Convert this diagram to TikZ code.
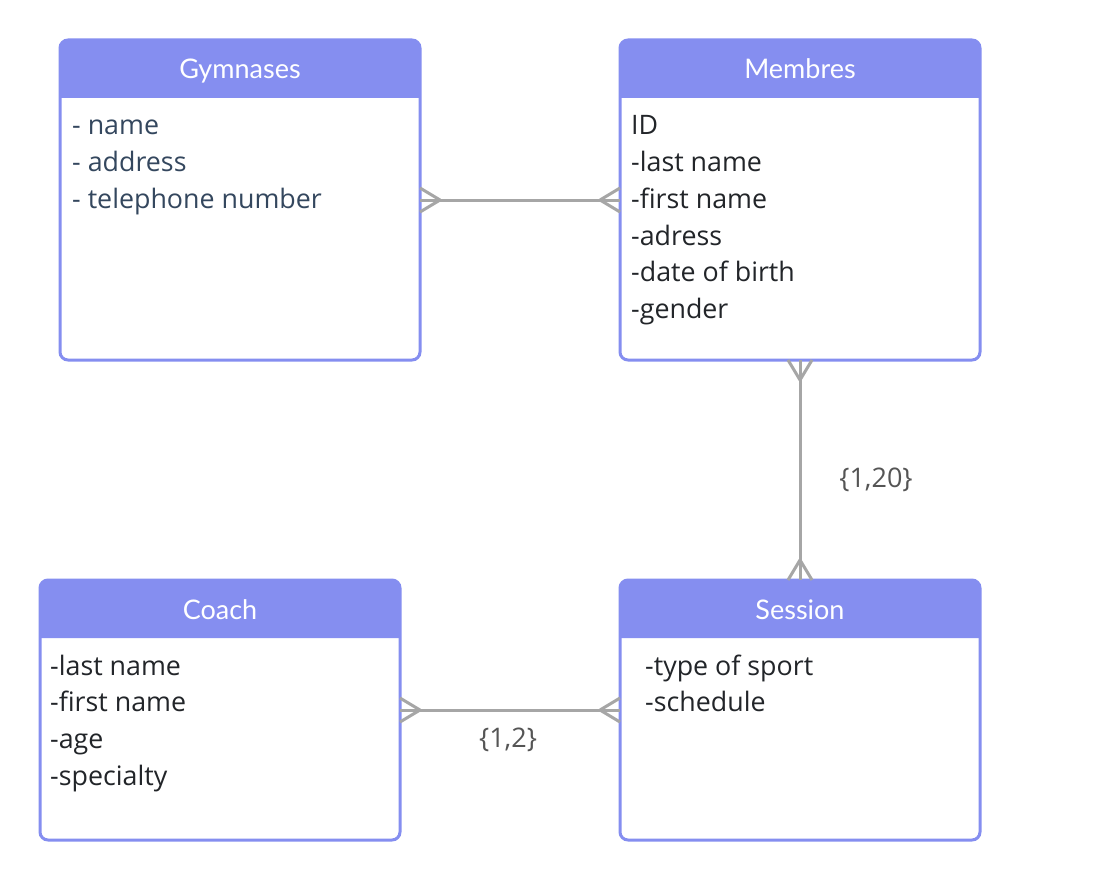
\documentclass[tikz,border=0pt]{standalone}
\usepackage{fontspec}
\setmainfont{Open Sans}
\newfontfamily\hdrfont{Lato}
\usetikzlibrary{calc}
\definecolor{ent}{HTML}{858EF0}
\definecolor{conn}{HTML}{A6A6A6}
\definecolor{txtA}{HTML}{34475E}
\definecolor{txtB}{HTML}{222529}
\definecolor{lbl}{HTML}{555555}
\newcommand\entity[6]{%
  \node[boxshape, minimum width=#4pt, minimum height=#5pt] (#1) at (#2,#3) {};
  \fill[ent] ([yshift=-58pt]#1.north west) [rounded corners=8pt] -- (#1.north west) -- (#1.north east) [sharp corners] -- ([yshift=-58pt]#1.north east) -- cycle;
  \draw[boxline] (#1.north west) rectangle (#1.south east);
  \node[titletext] (#1-t) at ([yshift=-39pt]#1.north) {#6};
}
\begin{document}
\begin{tikzpicture}[x=1pt,y=-1pt,
  boxshape/.style={inner sep=0pt, outer sep=0pt, rectangle},
  boxline/.style={draw=ent, line width=3pt, rounded corners=8pt},
  titletext/.style={anchor=base, text=white, font=\hdrfont\fontsize{27}{30}\selectfont, inner sep=0pt},
  bodyA/.style={anchor=base west, text=txtA, font=\fontsize{26.8}{30}\selectfont, inner sep=0pt},
  bodyB/.style={anchor=base west, text=txtB, font=\fontsize{26.8}{30}\selectfont, inner sep=0pt},
  conn/.style={draw=conn, line width=3pt},
  lab/.style={text=lbl, font=\fontsize{27}{30}\selectfont, inner sep=0pt}]
\useasboundingbox[fill=white] (0,0) rectangle (1100,880);

\entity{gym}{240}{200}{360}{320}{Gymnases}
\entity{mem}{800}{200}{360}{320}{Membres}
\entity{coach}{220}{710}{360}{260}{Coach}
\entity{ses}{800}{710}{360}{260}{Session}

% Gymnases body
\node[bodyA] (g1) at (72,135) {- name};
\node[bodyA] (g2) at (72,171.7) {- address};
\node[bodyA] (g3) at (72,208.4) {- telephone number};
% Membres body
\node[bodyB] (m1) at (631,135) {ID};
\node[bodyB] (m2) at (631,171.7) {-last name};
\node[bodyB] (m3) at (631,208.4) {-first name};
\node[bodyB] (m4) at (631,245.1) {-adress};
\node[bodyB] (m5) at (631,281.8) {-date of birth};
\node[bodyB] (m6) at (631,318.5) {-gender};
% Coach body
\node[bodyB] (c1) at (50,675) {-last name};
\node[bodyB] (c2) at (50,711.7) {-first name};
\node[bodyB] (c3) at (50,748.4) {-age};
\node[bodyB] (c4) at (50,785.1) {-specialty};
% Session body
\node[bodyB] (s1) at (645,675) {-type of sport};
\node[bodyB] (s2) at (645,711.7) {-schedule};

% connectors
\draw[conn] (gym.east) -- (mem.west);
\draw[conn] ([xshift=20pt]gym.east) -- ([yshift=12pt]gym.east);
\draw[conn] ([xshift=20pt]gym.east) -- ([yshift=-12pt]gym.east);
\draw[conn] ([xshift=-20pt]mem.west) -- ([yshift=12pt]mem.west);
\draw[conn] ([xshift=-20pt]mem.west) -- ([yshift=-12pt]mem.west);

\draw[conn] (mem.south) -- (ses.north);
\draw[conn] ([yshift=-20pt]mem.south) -- ([xshift=12pt]mem.south);
\draw[conn] ([yshift=-20pt]mem.south) -- ([xshift=-12pt]mem.south);
\draw[conn] ([yshift=20pt]ses.north) -- ([xshift=12pt]ses.north);
\draw[conn] ([yshift=20pt]ses.north) -- ([xshift=-12pt]ses.north);

\draw[conn] (coach.east) -- (ses.west);
\draw[conn] ([xshift=20pt]coach.east) -- ([yshift=12pt]coach.east);
\draw[conn] ([xshift=20pt]coach.east) -- ([yshift=-12pt]coach.east);
\draw[conn] ([xshift=-20pt]ses.west) -- ([yshift=12pt]ses.west);
\draw[conn] ([xshift=-20pt]ses.west) -- ([yshift=-12pt]ses.west);

\node[lab] (l1) at (876,480) {\{1,20\}};
\node[lab] (l2) at (508,740) {\{1,2\}};
\end{tikzpicture}
\end{document}
